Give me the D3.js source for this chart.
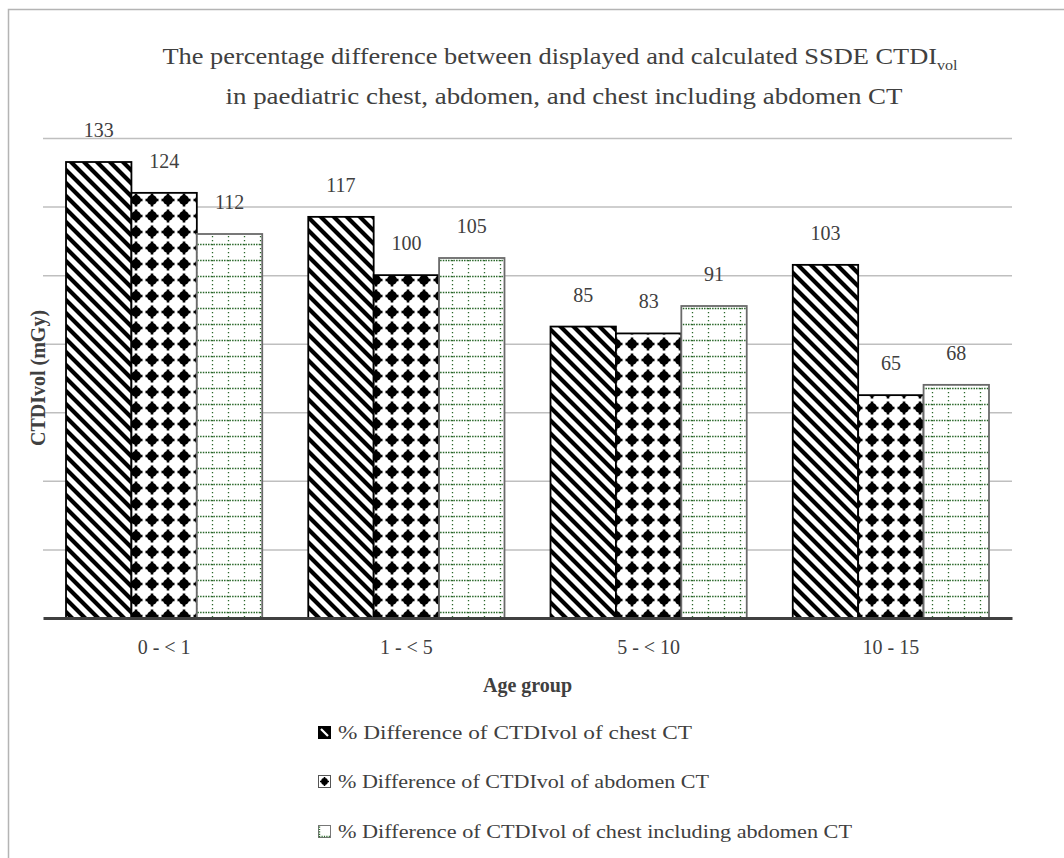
<!DOCTYPE html>
<html>
<head>
<meta charset="utf-8">
<script src="https://cdn.jsdelivr.net/npm/d3@7/dist/d3.min.js"></script>
<style>
  html, body { margin: 0; padding: 0; background: #fff; }
  svg { display: block; }
  text { font-family: "Liberation Serif", "Times New Roman", serif; fill: #404040; }
</style>
</head>
<body>
<svg id="chart" width="1064" height="858"></svg>
<script>
// Age groups on the x axis
const ageGroups = ["0 - < 1", "1 - < 5", "5 - < 10", "10 - 15"];

// Series (percentage difference of CTDIvol)
const seriesNames = [
  "% Difference of CTDIvol of chest CT",
  "% Difference of CTDIvol of abdomen CT",
  "% Difference of CTDIvol of chest including abdomen CT"
];
const chestValues = [133, 117, 85, 103];
const abdomenValues = [124, 100, 83, 65];
const chestAbdomenValues = [112, 105, 91, 68];

const yTicks = [20, 40, 60, 80, 100, 120, 140];
const yMax = 140;

const seriesValues = [chestValues, abdomenValues, chestAbdomenValues];
const seriesKeys = ["chest", "abdomen", "chestAbdomen"];

const svg = d3.select("#chart");
const defs = svg.append("defs");

// --- fill patterns ---
// wide downward diagonal stripes
const pStripe = defs.append("pattern")
  .attr("id", "pat-chest").attr("patternUnits", "userSpaceOnUse")
  .attr("width", 13).attr("height", 13);
pStripe.append("rect").attr("width", 13).attr("height", 13).attr("fill", "#fff");
pStripe.append("path")
  .attr("d", "M-1,-1 L14,14 M-7.5,5.5 L7.5,20.5 M5.5,-7.5 L20.5,7.5")
  .attr("stroke", "#000").attr("stroke-width", 4.2);

// black studded dots
const pDots = defs.append("pattern")
  .attr("id", "pat-abdomen").attr("patternUnits", "userSpaceOnUse")
  .attr("width", 16).attr("height", 16);
pDots.append("rect").attr("width", 16).attr("height", 16).attr("fill", "#fff");
pDots.append("circle").attr("cx", 8).attr("cy", 8).attr("r", 5).attr("fill", "#000");
pDots.append("rect").attr("x", 1.5).attr("y", 6.7).attr("width", 13).attr("height", 2.6).attr("fill", "#000");
pDots.append("rect").attr("x", 6.7).attr("y", 1.5).attr("width", 2.6).attr("height", 13).attr("fill", "#000");

// dotted green grid
const pGrid = defs.append("pattern")
  .attr("id", "pat-chestAbdomen").attr("patternUnits", "userSpaceOnUse")
  .attr("width", 16).attr("height", 16);
pGrid.append("rect").attr("width", 16).attr("height", 16).attr("fill", "#fff");
pGrid.append("path").attr("d", "M0,4.5 H16")
  .attr("stroke", "#2a682a").attr("stroke-width", 1.5).attr("stroke-dasharray", "1.5,1.2");
pGrid.append("path").attr("d", "M4.5,0 V16")
  .attr("stroke", "#2a682a").attr("stroke-width", 1.3).attr("stroke-dasharray", "1.3,2.7");

// --- outer chart frame ---
svg.append("rect")
  .attr("x", 8.5).attr("y", 9.5).attr("width", 1100).attr("height", 900)
  .attr("fill", "none").attr("stroke", "#b4b4b4").attr("stroke-width", 1.5);

// --- scales ---
const plot = { left: 43, right: 1012, top: 138, bottom: 618 };
const x = d3.scaleBand().domain(ageGroups)
  .range([plot.left, plot.right]).paddingInner(0.19).paddingOuter(0.095);
const xs = d3.scaleBand().domain(seriesKeys).range([0, x.bandwidth()]);
const y = d3.scaleLinear().domain([0, yMax]).range([plot.bottom, plot.top]);

// --- gridlines ---
const grid = svg.append("g").attr("transform", `translate(${plot.left},0)`)
  .call(d3.axisLeft(y).tickValues(yTicks).tickSize(-(plot.right - plot.left)).tickFormat(""));
grid.select(".domain").remove();
grid.selectAll(".tick line").attr("stroke", "#bfbfbf").attr("stroke-width", 1.5);

// --- bars ---
const borders = { chest: "#000", abdomen: "#000", chestAbdomen: "#6a6a6a" };
seriesKeys.forEach((key, si) => {
  const g = svg.append("g");
  g.selectAll("rect").data(seriesValues[si]).join("rect")
    .attr("x", (d, i) => x(ageGroups[i]) + xs(key))
    .attr("y", d => y(d))
    .attr("width", xs.bandwidth())
    .attr("height", d => y(0) - y(d))
    .attr("fill", `url(#pat-${key})`)
    .attr("stroke", borders[key]).attr("stroke-width", 1.8);
  g.selectAll("text").data(seriesValues[si]).join("text")
    .attr("x", (d, i) => x(ageGroups[i]) + xs(key) + xs.bandwidth() / 2)
    .attr("y", d => y(d) - 25)
    .attr("text-anchor", "middle")
    .attr("font-size", 20)
    .text(d => d);
});

// --- x axis baseline and labels ---
const xAxis = svg.append("g").attr("transform", `translate(0,${plot.bottom})`)
  .call(d3.axisBottom(x).tickSize(0).tickPadding(22));
xAxis.select(".domain").attr("stroke", "#404040").attr("stroke-width", 3.2);
xAxis.selectAll(".tick text")
  .attr("font-family", "Liberation Serif, serif").attr("font-size", 20).attr("fill", "#404040");

// --- axis titles ---
svg.append("text")
  .attr("x", (plot.left + plot.right) / 2).attr("y", 692)
  .attr("text-anchor", "middle").attr("font-size", 20).attr("font-weight", "bold")
  .attr("fill", "#262626").text("Age group");

svg.append("text")
  .attr("transform", `translate(45,${(plot.top + plot.bottom) / 2}) rotate(-90)`)
  .attr("text-anchor", "middle").attr("font-size", 20).attr("font-weight", "bold")
  .attr("fill", "#262626").text("CTDIvol (mGy)");

// --- chart title ---
const t1 = svg.append("text").attr("x", 560).attr("y", 64)
  .attr("text-anchor", "middle").attr("font-size", 23).attr("fill", "#262626")
  .attr("textLength", 795).attr("lengthAdjust", "spacingAndGlyphs");
t1.append("tspan").text("The percentage difference between displayed and calculated SSDE CTDI");
t1.append("tspan").attr("font-size", 14).attr("dy", 6).text("vol");
svg.append("text").attr("x", 564).attr("y", 104)
  .attr("text-anchor", "middle").attr("font-size", 23).attr("fill", "#262626")
  .attr("textLength", 677).attr("lengthAdjust", "spacingAndGlyphs")
  .text("in paediatric chest, abdomen, and chest including abdomen CT");

// --- legend ---
const legendRows = [733, 782, 832];
const legendWidths = [354, 371, 514];
const legend = svg.append("g");
seriesNames.forEach((name, i) => {
  const cy = legendRows[i];
  const icon = legend.append("g").attr("transform", `translate(318,${cy - 7})`);
  if (i === 0) {
    icon.append("rect").attr("width", 13).attr("height", 13).attr("fill", "#000");
    icon.append("path").attr("d", "M3,3 L10,10").attr("stroke", "#fff").attr("stroke-width", 2.2);
  } else if (i === 1) {
    icon.append("rect").attr("x", 0.5).attr("y", 0.5).attr("width", 12).attr("height", 12)
      .attr("fill", "#fff").attr("stroke", "#555").attr("stroke-width", 1);
    icon.append("circle").attr("cx", 6.5).attr("cy", 6.5).attr("r", 3.4).attr("fill", "#000");
    icon.append("path").attr("d", "M2,6.5 H11 M6.5,2 V11").attr("stroke", "#000").attr("stroke-width", 1.6);
  } else {
    icon.append("rect").attr("x", 0.5).attr("y", 0.5).attr("width", 12).attr("height", 12)
      .attr("fill", "#fff").attr("stroke", "#777").attr("stroke-width", 1);
    icon.append("path").attr("d", "M1.5,1.5 V11.5 H12")
      .attr("fill", "none").attr("stroke", "#2f6d2f").attr("stroke-width", 1.4).attr("stroke-dasharray", "1.2,1.2");
  }
  legend.append("text").attr("x", 338).attr("y", cy + 6)
    .attr("font-size", 19)
    .attr("textLength", legendWidths[i]).attr("lengthAdjust", "spacingAndGlyphs")
    .text(name);
});
</script>
</body>
</html>
